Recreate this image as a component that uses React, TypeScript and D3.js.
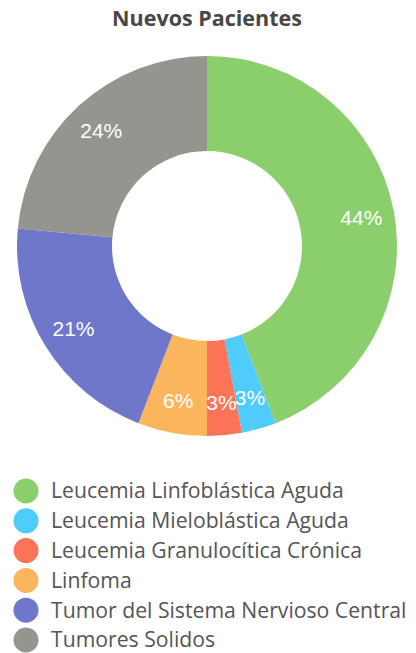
import React from "react";
import * as d3 from "d3";

const categories = [
  "Leucemia Linfoblástica Aguda",
  "Leucemia Mieloblástica Aguda",
  "Leucemia Granulocítica Crónica",
  "Linfoma",
  "Tumor del Sistema Nervioso Central",
  "Tumores Solidos",
];
const counts = [15, 1, 1, 2, 7, 8];
const colors = ["#8bcf6c", "#4fcbfc", "#fc7457", "#fbb55d", "#6e77ca", "#94958f"];

const W = 416,
  H = 653;

const App = () => {
  const cx = 207,
    cy = 246,
    outer = 190,
    inner = 95;

  const total = d3.sum(counts);
  const pie = d3
    .pie<number>()
    .sort(null)
    .value((d) => d);
  const arcs = pie(counts);
  const arc = d3.arc<d3.PieArcDatum<number>>().innerRadius(inner).outerRadius(outer);
  const labelArc = d3
    .arc<d3.PieArcDatum<number>>()
    .innerRadius(157)
    .outerRadius(157);

  const legendY = d3
    .scalePoint<string>()
    .domain(categories)
    .range([491, 640]);

  return (
    <svg
      width={W}
      height={H}
      style={{ position: "absolute", left: 0, top: 0, background: "#fff" }}
    >
      <text
        x={207}
        y={26}
        textAnchor="middle"
        fontFamily="'Open Sans', sans-serif"
        fontWeight="bold"
        fontSize={21.5}
        fill="#474747"
      >
        Nuevos Pacientes
      </text>
      <g transform={`translate(${cx},${cy})`}>
        {arcs.map((a, i) => (
          <path key={i} d={arc(a) || ""} fill={colors[i]} />
        ))}
        {arcs.map((a, i) => {
          const [x, y] = labelArc.centroid(a);
          return (
            <text
              key={"l" + i}
              x={x}
              y={y}
              dy="0.36em"
              textAnchor="middle"
              fontFamily="'Liberation Sans', Arial, sans-serif"
              fontSize={21}
              fill="#fff"
            >
              {Math.round((a.data / total) * 100) + "%"}
            </text>
          );
        })}
      </g>
      <g>
        {categories.map((c, i) => (
          <g key={c} transform={`translate(0,${legendY(c)})`}>
            <circle cx={26} cy={0} r={12.5} fill={colors[i]} />
            <text
              x={51}
              y={0}
              dy="0.35em"
              fontFamily="'Open Sans', sans-serif"
              fontSize={21.2}
              fill="#555"
            >
              {c}
            </text>
          </g>
        ))}
      </g>
    </svg>
  );
};

export default App;
